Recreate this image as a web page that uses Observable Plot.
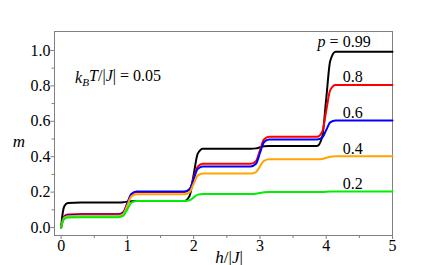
<!DOCTYPE html>
<html><head><meta charset="utf-8">
<script src="https://cdn.jsdelivr.net/npm/d3@7"></script>
<script src="https://cdn.jsdelivr.net/npm/@observablehq/plot@0.6"></script>
<style>
body{margin:0;background:#fff}
#chart{width:436px;height:265px}
</style>
</head><body><div id="chart"></div>
<script>
// field values h/|J| (shared by all series)
const h = [0, 0.02, 0.05, 0.1, 0.3, 0.86, 0.94, 1.0, 1.06, 1.14, 1.86, 1.94, 2.0, 2.06, 2.14, 2.86, 2.94, 3.0, 3.06, 3.14, 3.86, 3.94, 4.0, 4.06, 4.14, 5.0];
// magnetization m for each p
const m099 = [0, 0.071, 0.121, 0.138, 0.142, 0.142, 0.143, 0.146, 0.149, 0.15, 0.15, 0.18, 0.298, 0.416, 0.445, 0.445, 0.447, 0.453, 0.459, 0.46, 0.46, 0.513, 0.727, 0.94, 0.993, 0.993];
const m08  = [0, 0.038, 0.065, 0.074, 0.076, 0.076, 0.088, 0.138, 0.188, 0.2, 0.2, 0.216, 0.28, 0.344, 0.36, 0.36, 0.375, 0.436, 0.497, 0.512, 0.512, 0.541, 0.659, 0.776, 0.805, 0.805];
const m06  = [0, 0.036, 0.061, 0.07, 0.072, 0.072, 0.085, 0.138, 0.19, 0.203, 0.203, 0.217, 0.274, 0.331, 0.345, 0.345, 0.36, 0.421, 0.482, 0.497, 0.497, 0.508, 0.551, 0.594, 0.605, 0.605];
const m04  = [0, 0.033, 0.056, 0.064, 0.066, 0.066, 0.078, 0.127, 0.176, 0.188, 0.188, 0.2, 0.247, 0.293, 0.305, 0.305, 0.313, 0.345, 0.377, 0.385, 0.385, 0.387, 0.394, 0.4, 0.402, 0.402];
const m02  = [0, 0.029, 0.049, 0.056, 0.058, 0.058, 0.067, 0.104, 0.141, 0.15, 0.15, 0.154, 0.17, 0.186, 0.19, 0.19, 0.191, 0.195, 0.199, 0.2, 0.2, 0.2, 0.202, 0.203, 0.203, 0.203];

const pLabels = ["0.99", "0.8", "0.6", "0.4", "0.2"];
const colors = ["black", "#ff0000", "#0000ff", "#ffa500", "#00ee00"];
const seriesM = [m099, m08, m06, m04, m02];
const labelY = [1.047, 0.849, 0.65, 0.445, 0.247];

const xTicks = [0, 1, 2, 3, 4, 5];
const xMinor = [0.5, 1.5, 2.5, 3.5, 4.5];
const yTicks = [0, 0.2, 0.4, 0.6, 0.8, 1.0];
const yMinor = [0.1, 0.3, 0.5, 0.7, 0.9];

const annoText = "kBT/|J| = 0.05";
const xLabel = "h/|J|";
const yLabel = "m";
const pPrefix = "p =";

const data = pLabels.flatMap((p, k) => h.map((hv, i) => ({h: hv, m: seriesM[k][i], p})));
const labels = pLabels.map((p, k) => ({p, y: labelY[k]}));

const grey = "#808080";
const FF = "Liberation Serif";
const FS = 16;
const chart = Plot.plot({
  width: 436, height: 265,
  marginLeft: 54, marginRight: 44, marginTop: 31, marginBottom: 30,
  x: {domain: [-0.1, 5]},
  y: {domain: [-0.045, 1.107]},
  color: {domain: pLabels, range: colors},
  marks: [
    Plot.axisX(xTicks, {tickSize: 4, tickPadding: 0.5, stroke: grey, fill: "black", label: null, fontSize: FS, fontFamily: FF}),
    Plot.axisX(xMinor, {tickSize: 3, text: null, stroke: grey, label: null}),
    Plot.axisY(yTicks, {tickSize: 3.5, tickPadding: 0.5, stroke: grey, fill: "black", label: null, fontSize: FS, fontFamily: FF, tickFormat: d => d.toFixed(1)}),
    Plot.axisY(yMinor, {tickSize: 2.5, text: null, stroke: grey, label: null}),
    Plot.frame({stroke: grey}),
    Plot.line(data, {x: "h", y: "m", z: "p", stroke: "p", strokeWidth: 2, curve: "monotone-x"}),
    Plot.text(labels, {x: 4.25, y: "y", text: "p", textAnchor: "start", fontSize: FS, fontFamily: FF}),
    Plot.text([pPrefix], {x: 4.185, y: labelY[0], text: d => d, textAnchor: "end", fontSize: FS, fontFamily: FF}),
    Plot.text([annoText], {x: 0.211, y: 0.847, text: d => d, textAnchor: "start", fontSize: FS, fontFamily: FF}),
    Plot.text([xLabel], {x: 2.535, y: -0.169, text: d => d, textAnchor: "middle", fontSize: 17, fontFamily: FF}),
    Plot.text([yLabel], {x: -0.1, dx: -35.5, y: 0.483, text: d => d, textAnchor: "middle", fontSize: 17, fontFamily: FF})
  ]
});
chart.setAttribute("font-family", FF);
document.getElementById("chart").appendChild(chart);

const it = s => `<tspan font-style="italic">${s}</tspan>`;
const markup = {
  [annoText]: `${it("k")}<tspan font-style="italic" font-size="0.7em" dy="0.3em">B</tspan><tspan font-style="italic" dy="-0.3em">T</tspan>/|${it("J")}| = 0.05`,
  [xLabel]: `${it("h")}/|${it("J")}|`,
  [yLabel]: it("m"),
  [pPrefix]: `${it("p")} =`
};
chart.querySelectorAll("text").forEach(t => {
  const s = t.textContent;
  if (markup[s] && t.children.length === 0) t.innerHTML = markup[s];
});
</script></body></html>
